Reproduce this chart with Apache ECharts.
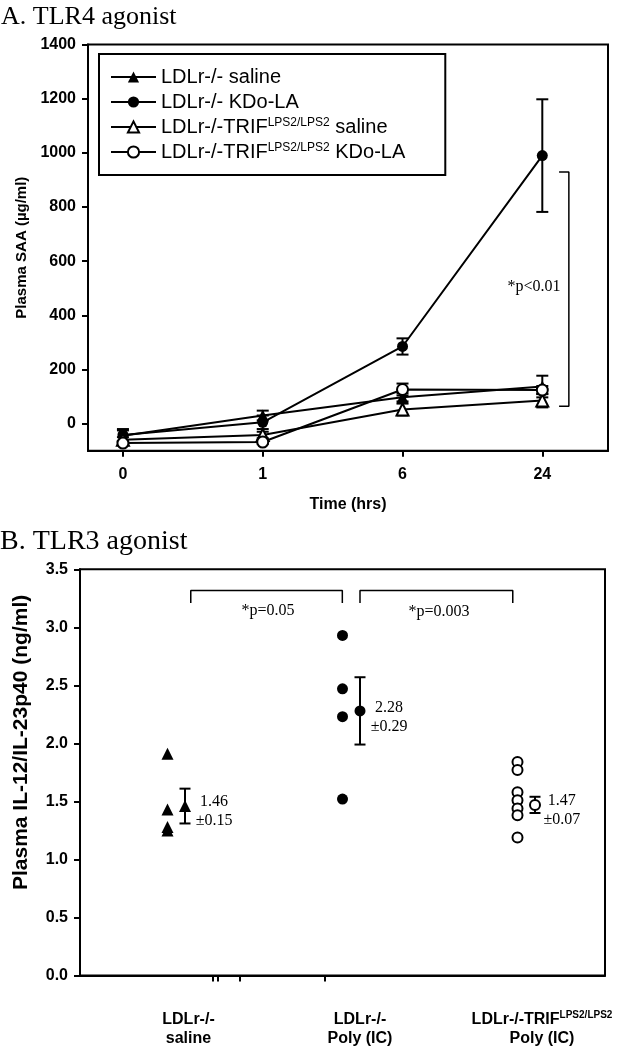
<!DOCTYPE html>
<html><head><meta charset="utf-8">
<script src="https://cdn.jsdelivr.net/npm/echarts@6/dist/echarts.min.js"></script>
<style>html,body{margin:0;padding:0;background:#fff}#c{width:629px;height:1050px}</style>
</head><body><div id="c"></div>
<script>
// ---------- Panel A data ----------
const timeLabels = ['0', '1', '6', '24'];
const timeIndex = [0, 1, 2, 3];
const yTicksA = [0, 200, 400, 600, 800, 1000, 1200, 1400];
const ldlrSaline = [-45, 30, 97, 137];
const ldlrSalineErr = [20, 18, 15, 40];
const ldlrKdo = [-42, 5, 285, 990];
const ldlrKdoErr = [22, 25, 30, 208];
const trifSaline = [-60, -42, 52, 85];
const trifSalineErr = [10, 12, 22, 25];
const trifKdo = [-72, -68, 126, 124];
const trifKdoErr = [8, 8, 22, 15];
const bracketA = [[3.12, 929], [3.19, 929], [3.19, 64], [3.12, 64]];
const textA = [{x: 2.94, y: 504, text: '*p<0.01'}];

// ---------- Panel B data ----------
const groupPos = [0.5, 1.5, 2.5];
const meanPos = [0.6, 1.6, 2.6];
const groupLabelPos = [0.62, 1.6, 2.64];
const groupLabels = ['LDLr-/-\nsaline', 'LDLr-/-\nPoly (IC)', 'LDLr-/-TRIF{sup|LPS2/LPS2}\nPoly (IC)'];
const oddTicksB = [0.76, 0.785, 0.915, 1.4];
const salineVals = [1.91, 1.43, 1.28, 1.25];
const polyVals = [2.93, 2.47, 2.23, 1.52];
const trifPolyVals = [1.84, 1.77, 1.58, 1.51, 1.44, 1.38, 1.19];
const means = [1.46, 2.28, 1.47];
const sems = [0.15, 0.29, 0.07];
const bracketB1 = [[0.633, 3.21], [0.633, 3.317], [1.499, 3.317], [1.499, 3.21]];
const bracketB2 = [[1.6, 3.21], [1.6, 3.317], [2.473, 3.317], [2.473, 3.21]];
const textB = [
  {x: 1.074, y: 3.142, text: '*p=0.05'},
  {x: 2.051, y: 3.136, text: '*p=0.003'},
  {x: 0.766, y: 1.418, text: '1.46\n\u00b10.15'},
  {x: 1.766, y: 2.228, text: '2.28\n\u00b10.29'},
  {x: 2.753, y: 1.422, text: '1.47\n\u00b10.07'}
];

const K = '#000';
const sans = '"Liberation Sans", Arial, sans-serif';
const serif = '"Liberation Serif", "Times New Roman", serif';

function errBars(xs, ys, errs, cap, gi) {
  return {
    type: 'custom', xAxisIndex: gi, yAxisIndex: gi, silent: true, z: 1,
    encode: {x: 0, y: [1, 2]},
    data: xs.map((x, i) => [x, ys[i] - errs[i], ys[i] + errs[i]]),
    renderItem: (params, api) => {
      const x = api.value(0);
      const lo = api.coord([x, api.value(1)]);
      const hi = api.coord([x, api.value(2)]);
      const s = {stroke: K, lineWidth: 2};
      return {type: 'group', children: [
        {type: 'line', shape: {x1: lo[0], y1: lo[1], x2: hi[0], y2: hi[1]}, style: s},
        {type: 'line', shape: {x1: lo[0] - cap, y1: lo[1], x2: lo[0] + cap, y2: lo[1]}, style: s},
        {type: 'line', shape: {x1: hi[0] - cap, y1: hi[1], x2: hi[0] + cap, y2: hi[1]}, style: s}
      ]};
    }
  };
}
function textMarks(items, gi, size) {
  return {
    type: 'custom', xAxisIndex: gi, yAxisIndex: gi, silent: true, z: 5,
    data: items.map(t => [t.x, t.y]),
    renderItem: (params, api) => {
      const p = api.coord([api.value(0), api.value(1)]);
      return {type: 'text', x: p[0], y: p[1], style: {
        text: items[params.dataIndex].text, fill: K, font: size + 'px ' + serif,
        align: 'center', verticalAlign: 'middle', textAlign: 'center', textVerticalAlign: 'middle', lineHeight: 19
      }};
    }
  };
}
function bracket(pts, gi) {
  return {type: 'line', xAxisIndex: gi, yAxisIndex: gi, data: pts, symbol: 'none', silent: true,
    lineStyle: {color: K, width: 1.5}, z: 4};
}
function lineSeries(name, vals, symbol, size, open) {
  return {
    type: 'line', name, xAxisIndex: 0, yAxisIndex: 0,
    data: timeIndex.map((x, i) => [x, vals[i]]),
    symbol, symbolSize: size, showSymbol: true, showAllSymbol: true,
    lineStyle: {color: K, width: 2},
    itemStyle: open ? {color: '#fff', borderColor: K, borderWidth: 2} : {color: K, borderColor: K, borderWidth: 0},
    z: 3, silent: true
  };
}
function scatterSeries(xs, vals, symbol, size, open) {
  return {
    type: 'scatter', xAxisIndex: 1, yAxisIndex: 1,
    data: vals.map((v, i) => [xs[i], v]),
    symbol, symbolSize: size, silent: true, z: 3,
    itemStyle: open ? {color: '#fff', borderColor: K, borderWidth: 2, opacity: 1} : {color: K, opacity: 1}
  };
}
const tickLabel = {fontSize: 16, fontWeight: 'bold', fontFamily: sans, color: K};
const axLine = {show: true, onZero: false, lineStyle: {color: K, width: 2}};
const axTick = {show: true, length: 6, lineStyle: {color: K, width: 2}};

const legendNames = ['LDLr-/- saline', 'LDLr-/- KDo-LA', 'LDLr-/-TRIF saline', 'LDLr-/-TRIF KDo-LA'];

const option = {
  animation: false,
  backgroundColor: '#fff',
  graphic: [
    {type: 'text', left: 1, top: 4, style: {text: 'A. TLR4 agonist', font: '26px ' + serif, fill: K}},
    {type: 'text', left: 0, top: 528, style: {text: 'B. TLR3 agonist', font: '28px ' + serif, fill: K}}
  ],
  legend: {
    data: legendNames, orient: 'vertical', left: 99, top: 54,
    itemWidth: 45, itemHeight: 14, itemGap: 5,
    padding: [13, 40, 13, 11],
    borderColor: K, borderWidth: 2, selectedMode: false,
    formatter: n => n.replace('TRIF', 'TRIF{sup|LPS2/LPS2}'),
    textStyle: {fontSize: 20, fontFamily: sans, color: K, lineHeight: 20,
      rich: {sup: {fontSize: 12, fontFamily: sans, color: K, verticalAlign: 'top', lineHeight: 12}}}
  },
  grid: [
    {left: 88, right: 21, top: 44.6, bottom: 599.3, show: true, borderColor: K, borderWidth: 2, outerBoundsMode: 'none'},
    {left: 80, right: 24, top: 569.3, bottom: 74.5, show: true, borderColor: K, borderWidth: 2, outerBoundsMode: 'none'}
  ],
  xAxis: [
    {type: 'value', gridIndex: 0, min: -0.25, max: 3.47, splitLine: {show: false},
      axisLine: axLine, axisTick: Object.assign({customValues: timeIndex}, axTick),
      axisLabel: Object.assign({customValues: timeIndex, margin: 16,
        formatter: v => timeLabels[timeIndex.indexOf(v)]}, tickLabel),
      name: 'Time (hrs)', nameLocation: 'middle', nameGap: 46,
      nameTextStyle: {fontSize: 16, fontWeight: 'bold', fontFamily: sans, color: K}},
    {type: 'value', gridIndex: 1, min: 0, max: 3, splitLine: {show: false},
      axisLine: axLine, axisTick: Object.assign({customValues: oddTicksB}, axTick),
      axisLabel: Object.assign({customValues: groupLabelPos, margin: 35, lineHeight: 19,
        formatter: v => groupLabels[groupLabelPos.indexOf(v)],
        rich: {sup: {fontSize: 10, fontWeight: 'bold', fontFamily: sans, color: K, verticalAlign: 'top', lineHeight: 11}}}, tickLabel, {fontSize: 16})}
  ],
  yAxis: [
    {type: 'value', gridIndex: 0, min: -100, max: 1400, splitLine: {show: false},
      axisLine: axLine, axisTick: Object.assign({customValues: yTicksA}, axTick),
      axisLabel: Object.assign({customValues: yTicksA, margin: 12, formatter: v => String(v)}, tickLabel),
      name: 'Plasma SAA (\u00b5g/ml)', nameLocation: 'middle', nameRotate: 90, nameGap: 58,
      nameTextStyle: {fontSize: 15, fontWeight: 'bold', fontFamily: sans, color: K}},
    {type: 'value', gridIndex: 1, min: 0, max: 3.5, interval: 0.5, splitLine: {show: false},
      axisLine: axLine, axisTick: axTick,
      axisLabel: Object.assign({margin: 12, formatter: v => v.toFixed(1)}, tickLabel),
      name: 'Plasma IL-12/IL-23p40 (ng/ml)', nameLocation: 'middle', nameRotate: 90, nameGap: 48,
      nameTextStyle: {fontSize: 21, fontWeight: 'bold', fontFamily: sans, color: K, padding: [0, 0, 0, 60]}}
  ],
  series: [
    errBars(timeIndex, ldlrSaline, ldlrSalineErr, 6, 0),
    errBars(timeIndex, ldlrKdo, ldlrKdoErr, 6, 0),
    errBars(timeIndex, trifSaline, trifSalineErr, 6, 0),
    errBars(timeIndex, trifKdo, trifKdoErr, 6, 0),
    lineSeries(legendNames[0], ldlrSaline, 'triangle', 12, false),
    lineSeries(legendNames[1], ldlrKdo, 'circle', 11, false),
    lineSeries(legendNames[2], trifSaline, 'triangle', 12, true),
    lineSeries(legendNames[3], trifKdo, 'circle', 11, true),
    bracket(bracketA, 0),
    textMarks(textA, 0, 16),

    errBars(meanPos, means, sems, 5.5, 1),
    scatterSeries(salineVals.map(() => groupPos[0]), salineVals, 'triangle', 12, false),
    scatterSeries(polyVals.map(() => groupPos[1]), polyVals, 'circle', 11, false),
    scatterSeries(trifPolyVals.map(() => groupPos[2]), trifPolyVals, 'circle', 10, true),
    scatterSeries([meanPos[0]], [means[0]], 'triangle', 12, false),
    scatterSeries([meanPos[1]], [means[1]], 'circle', 11, false),
    scatterSeries([meanPos[2]], [means[2]], 'circle', 10, true),
    bracket(bracketB1, 1),
    bracket(bracketB2, 1),
    textMarks(textB, 1, 16)
  ]
};
const chart = echarts.init(document.getElementById('c'));
chart.setOption(option);
</script>
</body></html>
